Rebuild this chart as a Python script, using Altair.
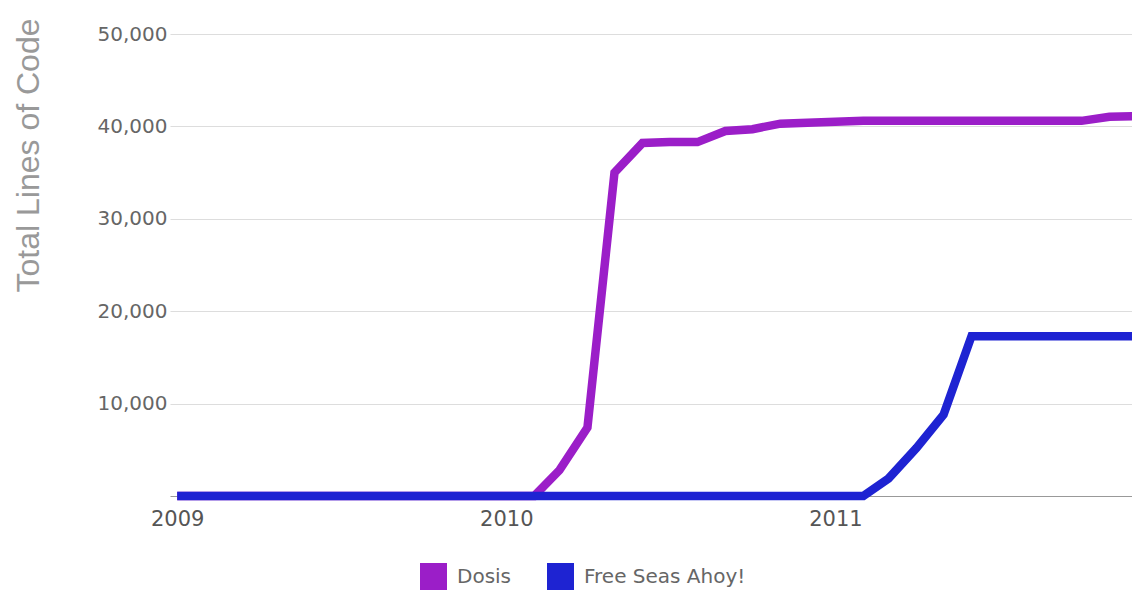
import altair as alt
import pandas as pd

# Monthly sample dates (first of each month, Jan 2009 - Dec 2011)
months = [f"{y}-{m:02d}-01" for y in (2009, 2010, 2011) for m in range(1, 13)]

series_names = ["Dosis", "Free Seas Ahoy!"]
series_colors = ["#9b1ec8", "#1e23d2"]

dosis = [0] * 14 + [
    2800, 7400, 35000, 38200, 38300, 38300, 39500, 39700, 40300, 40400,
    40500, 40600, 40600, 40600, 40600, 40600, 40600, 40600, 40600, 40600,
    41050, 41100,
]
free_seas = [0] * 26 + [
    1900, 5200, 8800, 17300, 17300, 17300, 17300, 17300, 17300, 17300,
]

y_ticks = [10000, 20000, 30000, 40000, 50000]
x_years = [2009, 2010, 2011]

rows = []
for name, vals in zip(series_names, [dosis, free_seas]):
    for d, v in zip(months, vals):
        rows.append({"date": d, "loc": v, "project": name})
df = pd.DataFrame(rows)

FONT = "DejaVu Sans"

chart = alt.Chart(df).mark_line(strokeWidth=8.5).encode(
    x=alt.X(
        "date:T",
        scale=alt.Scale(
            type="utc",
            domain=[
                alt.DateTime(year=2008, month=12, date=24, utc=True),
                alt.DateTime(year=2011, month=11, date=26, utc=True),
            ],
        ),
        axis=alt.Axis(
            values=[alt.DateTime(year=y, month=1, date=1, utc=True) for y in x_years],
            format="%Y",
            title=None,
            grid=False,
            ticks=False,
            domain=True,
            domainColor="#999999",
            domainWidth=1,
            labelPadding=12,
            labelFont=FONT,
            labelFontSize=21,
            labelColor="#555555",
            labelFlush=False,
            labelOverlap=False,
        ),
    ),
    y=alt.Y(
        "loc:Q",
        scale=alt.Scale(domain=[0, 50000], nice=False),
        axis=alt.Axis(
            values=y_ticks,
            format=",d",
            title="Total Lines of Code",
            titleFont="Liberation Sans",
            titleFontSize=32,
            titleFontWeight="normal",
            titleColor="#999999",
            titleAngle=270,
            titleAlign="center",
            titleBaseline="middle",
            titleX=-142,
            titleY=121,
            grid=True,
            gridColor="#dddddd",
            gridWidth=1,
            domain=False,
            ticks=False,
            labelPadding=3,
            labelFont=FONT,
            labelFontSize=20,
            labelColor="#666666",
        ),
    ),
    color=alt.Color(
        "project:N",
        scale=alt.Scale(domain=series_names, range=series_colors),
        legend=alt.Legend(
            title=None,
            orient="none",
            legendX=250,
            legendY=529,
            direction="horizontal",
            symbolType="square",
            symbolSize=169,
            symbolStrokeWidth=14,
            symbolOpacity=1,
            labelFont=FONT,
            labelFontSize=20,
            labelColor="#666666",
            labelOffset=10,
            labelLimit=400,
            columnPadding=14,
            padding=0,
        ),
    ),
    order=alt.Order("project:N"),
).properties(
    width=962,
    height=462,
    autosize=alt.AutoSizeParams(type="none"),
    padding={"left": 170, "top": 34, "right": 0, "bottom": 94},
).configure(background="white").configure_view(stroke=None)

chart.save("out.html", embed_options={"renderer": "svg", "actions": False})
